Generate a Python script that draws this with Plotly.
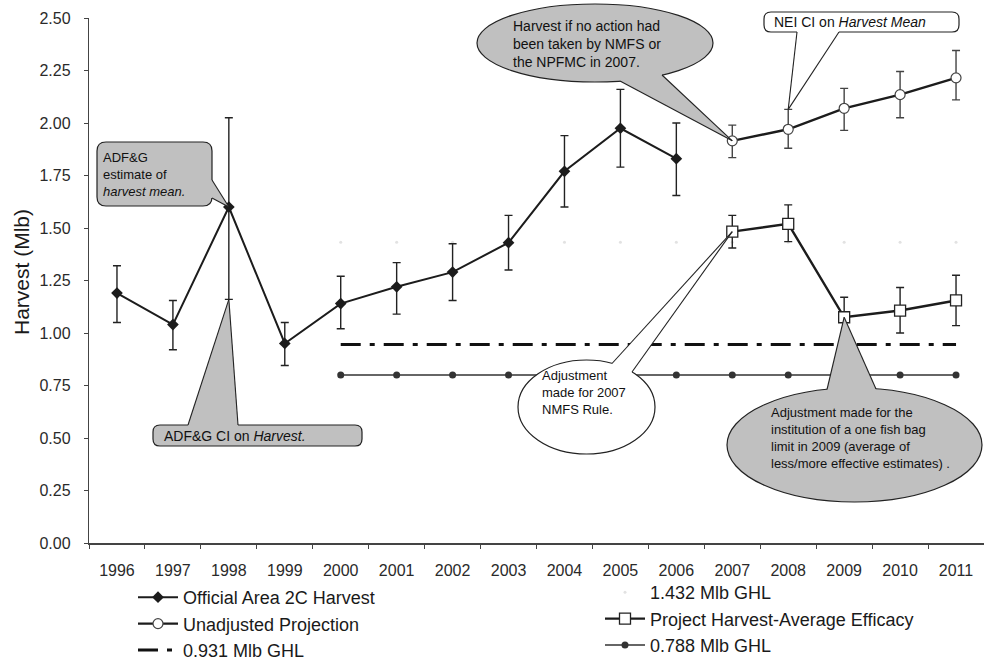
import plotly.graph_objects as go

# ---------------- data ----------------
years_official = [1996, 1997, 1998, 1999, 2000, 2001, 2002, 2003, 2004, 2005, 2006]
official = [1.19, 1.04, 1.60, 0.95, 1.14, 1.22, 1.29, 1.43, 1.77, 1.975, 1.83]
official_hi = [1.32, 1.155, 2.025, 1.05, 1.27, 1.335, 1.425, 1.56, 1.94, 2.16, 2.00]
official_lo = [1.05, 0.92, 1.16, 0.845, 1.02, 1.09, 1.155, 1.30, 1.60, 1.79, 1.655]

years_proj = [2007, 2008, 2009, 2010, 2011]
unadjusted = [1.915, 1.97, 2.07, 2.135, 2.215]
unadjusted_hi = [1.99, 2.065, 2.165, 2.245, 2.345]
unadjusted_lo = [1.835, 1.88, 1.965, 2.025, 2.11]

project = [1.483, 1.52, 1.075, 1.107, 1.155]
project_hi = [1.56, 1.61, 1.17, 1.217, 1.275]
project_lo = [1.405, 1.435, 0.98, 1.00, 1.035]

years_ghl = [2000, 2001, 2002, 2003, 2004, 2005, 2006, 2007, 2008, 2009, 2010, 2011]
ghl_0931 = [0.945, 0.945, 0.945, 0.945, 0.945, 0.945, 0.945, 0.945, 0.945, 0.945, 0.945, 0.945]
ghl_1432 = [1.432, 1.432, 1.432, 1.432, 1.432, 1.432, 1.432, 1.432, 1.432, 1.432, 1.432, 1.432]
ghl_0788 = [0.80, 0.80, 0.80, 0.80, 0.80, 0.80, 0.80, 0.80, 0.80, 0.80, 0.80, 0.80]

all_years = [1996, 1997, 1998, 1999, 2000, 2001, 2002, 2003, 2004, 2005, 2006, 2007, 2008, 2009, 2010, 2011]
y_ticks = [0.0, 0.25, 0.5, 0.75, 1.0, 1.25, 1.5, 1.75, 2.0, 2.25, 2.5]

FONT = "Liberation Sans, Arial, sans-serif"
INK = "#1c1c1c"

# ---------------- layout geometry (pixels) ----------------
W_FIG, H_FIG = 984, 660
ML, MR, MT, MB = 89, 0, 18, 117
PW = W_FIG - ML - MR
PH = H_FIG - MT - MB
X0, X1 = 1995.5, 2011.5
Y0, Y1 = 0.0, 2.5


def px(x):  # pixel -> paper x
    return (x - ML) / PW


def py(y):  # pixel -> paper y
    return (MT + PH - y) / PH


def dx(v):  # data -> paper x
    return (v - X0) / (X1 - X0)


def dy(v):  # data -> paper y
    return (v - Y0) / (Y1 - Y0)


def err(vals, hi, lo):
    plus = [h - v for v, h in zip(vals, hi)]
    minus = [v - l for v, l in zip(vals, lo)]
    return plus, minus


fig = go.Figure()

# 0.931 GHL (dash-dot)
fig.add_trace(go.Scatter(
    x=years_ghl, y=ghl_0931, mode="lines", name="0.931 Mlb GHL",
    line=dict(color="#111111", width=3, dash="20px,9px,5px,9px"),
    legend="legend"))

# 0.788 GHL
fig.add_trace(go.Scatter(
    x=years_ghl, y=ghl_0788, mode="lines+markers", name="0.788 Mlb GHL",
    line=dict(color="#333333", width=1.3),
    marker=dict(symbol="circle", size=7, color="#333333"),
    legend="legend2"))

# 1.432 GHL (very faint in the original)
fig.add_trace(go.Scatter(
    x=years_ghl, y=ghl_1432, mode="markers", name="1.432 Mlb GHL",
    marker=dict(symbol="circle", size=3, color="#e2e2e2"),
    legend="legend2"))

# Official harvest
p, m = err(official, official_hi, official_lo)
fig.add_trace(go.Scatter(
    x=years_official, y=official, mode="lines+markers", name="Official Area 2C Harvest",
    line=dict(color=INK, width=2),
    marker=dict(symbol="diamond", size=9, color=INK),
    error_y=dict(type="data", array=p, arrayminus=m, color="#222222", thickness=1.4, width=4),
    legend="legend"))

# Unadjusted projection
p, m = err(unadjusted, unadjusted_hi, unadjusted_lo)
fig.add_trace(go.Scatter(
    x=years_proj, y=unadjusted, mode="lines+markers", name="Unadjusted Projection",
    line=dict(color=INK, width=2.4),
    marker=dict(symbol="circle", size=10, color="white", line=dict(color="#444444", width=1.2)),
    error_y=dict(type="data", array=p, arrayminus=m, color="#444444", thickness=1.4, width=4),
    legend="legend"))

# Project harvest - average efficacy
p, m = err(project, project_hi, project_lo)
fig.add_trace(go.Scatter(
    x=years_proj, y=project, mode="lines+markers", name="Project Harvest-Average Efficacy",
    line=dict(color=INK, width=2.4),
    marker=dict(symbol="square", size=11, color="white", line=dict(color="#222222", width=1.3)),
    error_y=dict(type="data", array=p, arrayminus=m, color="#222222", thickness=1.4, width=4),
    legend="legend2"))

# ---------------- callouts ----------------
shapes = []
annotations = []
GRAY = "#c0c0c0"


def rrect(x0, y0, x1, y1, r):
    pts = [
        ("M", (x0 + r, y0)), ("L", (x1 - r, y0)), ("Q", (x1, y0), (x1, y0 + r)),
        ("L", (x1, y1 - r)), ("Q", (x1, y1), (x1 - r, y1)),
        ("L", (x0 + r, y1)), ("Q", (x0, y1), (x0, y1 - r)),
        ("L", (x0, y0 + r)), ("Q", (x0, y0), (x0 + r, y0)),
    ]
    s = ""
    for item in pts:
        cmd = item[0]
        coords = " ".join(f"{px(a):.5f},{py(b):.5f}" for a, b in item[1:])
        s += f"{cmd}{coords} "
    return s + "Z"


def body_rect(x0, y0, x1, y1, r, fill):
    shapes.append(dict(type="path", xref="paper", yref="paper", path=rrect(x0, y0, x1, y1, r),
                       fillcolor=fill, line=dict(color="#222222", width=1.2), layer="above"))


def body_ellipse(x0, y0, x1, y1, fill):
    shapes.append(dict(type="circle", xref="paper", yref="paper",
                       x0=px(x0), x1=px(x1), y0=py(y1), y1=py(y0),
                       fillcolor=fill, line=dict(color="#222222", width=1.2), layer="above"))


def tail(b1, b2, tip_year, tip_val, fill, inward):
    tx, ty = dx(tip_year), dy(tip_val)
    b1i = (b1[0] + inward[0], b1[1] + inward[1])
    b2i = (b2[0] + inward[0], b2[1] + inward[1])
    path = (f"M{px(b1[0]):.5f},{py(b1[1]):.5f} L{tx:.5f},{ty:.5f} "
            f"L{px(b2[0]):.5f},{py(b2[1]):.5f} L{px(b2i[0]):.5f},{py(b2i[1]):.5f} "
            f"L{px(b1i[0]):.5f},{py(b1i[1]):.5f} Z")
    shapes.append(dict(type="path", xref="paper", yref="paper", path=path,
                       fillcolor=fill, line=dict(width=0), layer="above"))
    for b in (b1, b2):
        shapes.append(dict(type="line", xref="paper", yref="paper",
                           x0=px(b[0]), y0=py(b[1]), x1=tx, y1=ty,
                           line=dict(color="#222222", width=1.1), layer="above"))


def label(x, y, text, size, anchor="left"):
    annotations.append(dict(xref="paper", yref="paper", x=px(x), y=py(y), text=text,
                            showarrow=False, xanchor=anchor, yanchor="middle", align="left",
                            font=dict(family=FONT, size=size, color="#111111")))


# 1: ADF&G estimate of harvest mean
body_rect(97, 142, 212, 206, 9, GRAY)
tail((212, 180), (212, 198), years_official[2], official[2], GRAY, (-5, 0))
label(101, 174, "ADF&amp;G<br>estimate of<br><i>harvest mean.</i>", 13)

# 2: ADF&G CI on Harvest
body_rect(153, 425, 362, 446, 7, GRAY)
tail((188, 425), (238, 425), years_official[2], official_lo[2], GRAY, (0, 5))
label(162, 436, "ADF&amp;G CI on <i>Harvest.</i>", 14)

# 3: Harvest if no action
body_ellipse(477, 4, 713, 82, GRAY)
tail((620, 81), (662, 75), years_proj[0], unadjusted[0], GRAY, (0, -5))
label(511, 43.5, "Harvest if no action had<br>been taken by NMFS or<br>the NPFMC in 2007.", 14)

# 4: NEI CI on Harvest Mean
body_rect(764, 12, 959, 32, 7, "white")
tail((797, 32), (839, 32), years_proj[1], unadjusted_hi[1], "white", (0, -4))
label(772, 22, "NEI CI on <i>Harvest Mean</i>", 14)

# 5: Adjustment made for 2007 NMFS Rule
body_ellipse(518, 360, 655, 454, "white")
tail((612, 363.5), (632, 372), years_proj[0], project[0], "white", (-3, 5))
label(540, 392.5, "Adjustment<br>made for 2007<br>NMFS Rule.", 13)

# 6: Adjustment made for one fish bag limit
body_ellipse(727, 388, 982, 502, GRAY)
tail((827, 389.5), (876, 389), years_proj[2], project[2], GRAY, (0, 5))
label(769, 438, "Adjustment made for the<br>institution of a one fish bag<br>limit in 2009 (average of<br>less/more effective estimates) .", 13)

# y-axis title (as rotated text)
annotations.append(dict(xref="paper", yref="paper", x=px(21), y=py(272), text="Harvest (Mlb)",
                        textangle=-90, showarrow=False, xanchor="center", yanchor="middle",
                        font=dict(family=FONT, size=21, color="#1a1a1a")))

# ---------------- layout ----------------
fig.update_layout(
    width=W_FIG, height=H_FIG,
    margin=dict(l=ML, r=MR, t=MT, b=MB, pad=0, autoexpand=False),
    paper_bgcolor="white", plot_bgcolor="white",
    font=dict(family=FONT, color="#2a2a2a"),
    xaxis=dict(
        range=[X0, X1], tickmode="array", tickvals=all_years,
        ticktext=[str(y) for y in all_years], ticks="",
        tickfont=dict(size=16, color="#2a2a2a"), ticklabelstandoff=12,
        showline=True, linecolor="#444444", linewidth=1.6, showgrid=False, zeroline=False,
        minor=dict(tickmode="linear", tick0=1995.5, dtick=1, ticks="outside",
                   ticklen=4, tickcolor="#444444", tickwidth=1, showgrid=False),
    ),
    yaxis=dict(
        range=[Y0, Y1], tickmode="array", tickvals=y_ticks, tickformat=".2f",
        ticks="outside", ticklen=4, tickcolor="#444444",
        tickfont=dict(size=16, color="#2a2a2a"), ticklabelstandoff=10,
        showline=True, linecolor="#444444", linewidth=1.4, showgrid=False, zeroline=False,
    ),
    legend=dict(xref="container", yref="container", x=133 / W_FIG, y=1 - 579 / H_FIG,
                xanchor="left", yanchor="top",
                font=dict(size=18, color="#1a1a1a"), bgcolor="rgba(0,0,0,0)",
                traceorder="normal", itemwidth=40, tracegroupgap=0),
    legend2=dict(xref="container", yref="container", x=600 / W_FIG, y=1 - 574 / H_FIG,
                 xanchor="left", yanchor="top",
                 font=dict(size=18, color="#1a1a1a"), bgcolor="rgba(0,0,0,0)",
                 traceorder="normal", itemwidth=40, tracegroupgap=0),
    shapes=shapes, annotations=annotations,
    showlegend=True,
)

# legend ordering
order = {"Official Area 2C Harvest": 1, "Unadjusted Projection": 2, "0.931 Mlb GHL": 3,
         "1.432 Mlb GHL": 1, "Project Harvest-Average Efficacy": 2, "0.788 Mlb GHL": 3}
for tr in fig.data:
    tr.legendrank = order[tr.name]

fig.write_html("out.html")
